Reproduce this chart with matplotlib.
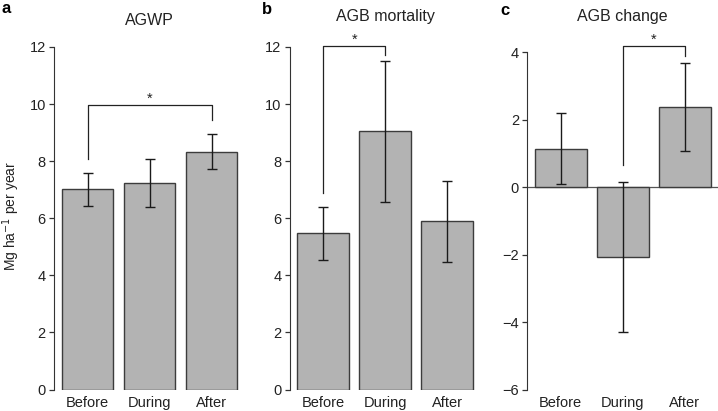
import matplotlib.pyplot as plt
import numpy as np

plt.rcParams['font.family'] = ['Liberation Sans', 'DejaVu Sans']

groups = ['Before', 'During', 'After']

# panel a: AGWP
agwp = [7.02, 7.24, 8.33]
agwp_lo = [6.42, 6.41, 7.71]
agwp_hi = [7.59, 8.06, 8.96]

# panel b: AGB mortality
mort = [5.49, 9.05, 5.91]
mort_lo = [4.55, 6.57, 4.48]
mort_hi = [6.41, 11.51, 7.32]

# panel c: AGB change
change = [1.14, -2.07, 2.37]
change_lo = [0.08, -4.29, 1.07]
change_hi = [2.19, 0.16, 3.68]

titles = ['AGWP', 'AGB mortality', 'AGB change']
letters = ['a', 'b', 'c']

# significance brackets: (i, j, bar height, left leg end, right leg end)
brackets = [(0, 2, 9.96, 8.07, 9.44),
            (0, 1, 12.02, 6.9, 11.7),
            (1, 2, 4.18, 0.64, 3.88)]

W, H = 718, 411
fig = plt.figure(figsize=(W / 100, H / 100), dpi=100)

bar_col = '#b3b3b3'
edge_col = '#3c3c3c'
x = np.arange(3)
xlim = (-0.536, 2.536)
unit_px = 62.0
ax_w = (xlim[1] - xlim[0]) * unit_px
centres0 = [87.5, 323.3, 560.7]
ylims = [(0, 12.6), (0, 12.6), (-6, 4.66)]
ybounds = [(0, 12), (0, 12), (-6, 4)]
yticks = [np.arange(0, 13, 2), np.arange(0, 13, 2), np.arange(-6, 5, 2)]
title_base = [25, 21, 21]
letter_base = [13, 14, 15]
letter_x = [1, 262, 500]

bottom_px, top_px = 389.5, 29.8

data = [(agwp, agwp_lo, agwp_hi), (mort, mort_lo, mort_hi),
        (change, change_lo, change_hi)]

for k in range(3):
    left_px = centres0[k] + xlim[0] * unit_px
    ax = fig.add_axes([left_px / W, 1 - bottom_px / H, ax_w / W,
                       (bottom_px - top_px) / H])
    vals, lo, hi = data[k]
    vals = np.array(vals)
    yerr = np.array([vals - np.array(lo), np.array(hi) - vals])
    if k == 2:
        ax.axhline(0, color='#555555', lw=0.9, zorder=1)
    ax.bar(x, vals, width=0.833, color=bar_col, edgecolor=edge_col,
           linewidth=1.0, zorder=2)
    ax.errorbar(x, vals, yerr=yerr, fmt='none', ecolor='#1a1a1a',
                elinewidth=1.0, capsize=3.3, capthick=1.0, zorder=3)
    ax.set_xlim(*xlim)
    ax.set_ylim(*ylims[k])
    ax.set_yticks(yticks[k])
    ax.set_yticklabels([str(t).replace('-', '\u2212') for t in yticks[k]])
    ax.set_xticks(x)
    ax.set_xticklabels(groups)
    for s in ['top', 'right', 'bottom']:
        ax.spines[s].set_visible(False)
    ax.spines['left'].set_bounds(*ybounds[k])
    ax.spines['left'].set_color('#333333')
    ax.tick_params(axis='y', length=3.6, width=0.9, color='#333333',
                   labelsize=10.5, pad=2.5, labelcolor='#222222')
    ax.tick_params(axis='x', length=0, labelsize=10.5, pad=4.5,
                   labelcolor='#222222')

    i, j, hb, yl, yr = brackets[k]
    ax.plot([x[i], x[i], x[j], x[j]], [yl, hb, hb, yr], color='#222222',
            lw=0.9, clip_on=False)
    ax.annotate('*', xy=((x[i] + x[j]) / 2, hb), xytext=(0, 1.5),
                textcoords='offset points', ha='center', va='baseline',
                fontsize=10.5, color='#222222')

    # title centred over middle bar
    fig.text((centres0[k] + unit_px) / W, 1 - title_base[k] / H, titles[k],
             ha='center', va='baseline', fontsize=11.5, color='#222222')
    fig.text(letter_x[k] / W, 1 - letter_base[k] / H, letters[k],
             ha='left', va='baseline', fontsize=12, fontweight='bold')

fig.text(11 / W, 1 - 216 / H, 'Mg ha$^{\u22121}$ per year', rotation=90,
         ha='center', va='center', fontsize=10, color='#222222')

fig.savefig('out.png', dpi=100)
